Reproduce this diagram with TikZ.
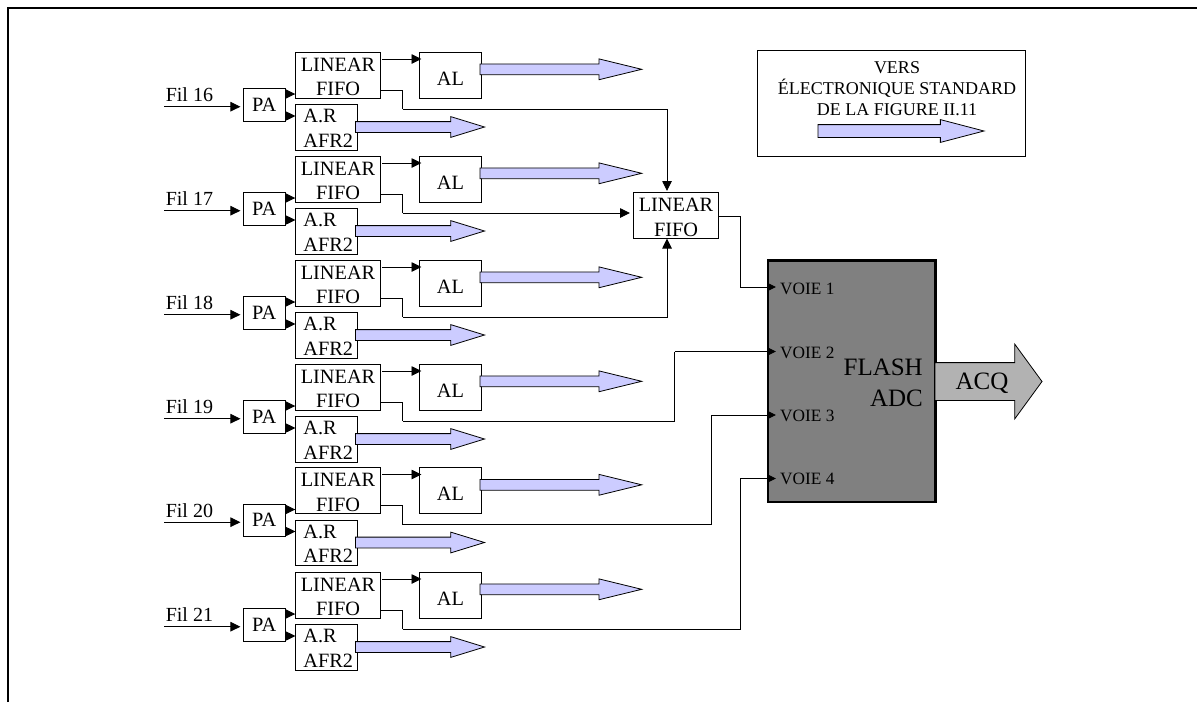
\documentclass[tikz,border=0pt]{standalone}
\usepackage{fontspec}
\setmainfont{Liberation Serif}
\usetikzlibrary{arrows.meta,shapes.arrows}
\definecolor{bluefill}{RGB}{204,204,255}
\definecolor{acqfill}{RGB}{178,178,178}
\newcommand{\fifostrut}{\rule{0pt}{17.5pt}}
\newcommand{\arstrut}{\rule{0pt}{15.5pt}}
\tikzset{
  box/.style={draw,line width=0.8pt,inner sep=0pt,outer sep=0pt,align=center,font=\fontsize{20.3}{24.5}\selectfont},
  wire/.style={line width=0.9pt},
  tip/.style={-{Triangle[length=10pt,width=9.5pt]}},
  smalltip/.style={-{Triangle[length=8pt,width=7.5pt]}},
  outarrow/.style={draw,line width=0.8pt,fill=bluefill,single arrow,single arrow head extend=5pt,inner xsep=0pt,inner ysep=5pt,outer sep=0pt,anchor=tip},
  voie/.style={anchor=west,inner sep=0pt,font=\fontsize{17.3}{20}\selectfont},
}
\begin{document}
\begin{tikzpicture}[x=1pt,y=-1pt]
  \useasboundingbox (0,0) rectangle (1197,702);
  \draw[line width=2pt] (8,702) -- (8,7.5) -- (1197,7.5);

  \node[box,minimum width=85.4pt,minimum height=46pt] (LF) at (676,215.3) {\fifostrut LINEAR\\FIFO};
  \node[draw,line width=2.2pt,fill=gray,minimum width=167.5pt,minimum height=241.5pt,outer sep=0pt] (ADC) at (851.7,381.2) {};
  \node[inner sep=0pt,anchor=east,align=right,font=\fontsize{25}{31}\selectfont] (ADCTXT) at (923,382.5) {FLASH\\ADC};
  \node[voie] (VOIE1) at (780,289) {VOIE 1};
  \node[voie] (VOIE2) at (780,353) {VOIE 2};
  \node[voie] (VOIE3) at (780,416) {VOIE 3};
  \node[voie] (VOIE4) at (780,479) {VOIE 4};
  \node[draw,line width=0.8pt,fill=acqfill,single arrow,single arrow head extend=18.5pt,single arrow tip angle=107.8,inner xsep=0pt,inner ysep=18.5pt,outer sep=0pt,minimum height=107pt,anchor=tip] (ACQ) at (1042,381.5) {};
  \node[inner sep=0pt,font=\fontsize{25}{30}\selectfont] (ACQTXT) at (982,383) {ACQ};

  \node[box,minimum width=267.7pt,minimum height=105.3pt] (LEG) at (891.2,103.3) {};
  \node[inner sep=0pt,align=center,font=\fontsize{18}{21}\selectfont] (LEGTXT) at (897,89) {VERS\\ÉLECTRONIQUE STANDARD\\DE LA FIGURE II.11};
  \node[outarrow,single arrow tip angle=29.3,inner ysep=6pt,minimum height=166pt] (LEGARW) at (984,131) {};

  \foreach \n/\dy in {16/0,17/104,18/208,19/312,20/415.5,21/520}{
    \node[box,minimum width=85.4pt,minimum height=46pt] (FIFO\n) at (338,75+\dy) {\fifostrut LINEAR\\FIFO};
    \node[box,minimum width=41.5pt,minimum height=32.6pt] (PA\n) at (264.2,104.7+\dy) {PA};
    \node[box,minimum width=61.5pt,minimum height=45.5pt,align=left,inner xsep=3pt,text width=55.5pt] (AR\n) at (326.2,127.4+\dy) {\arstrut\hspace*{5pt}A.R\\\hspace*{5pt}AFR2};
    \node[box,minimum width=62pt,minimum height=46pt,text height=20.5pt,text depth=0pt] (AL\n) at (450.5,75+\dy) {AL};
    \node[outarrow,single arrow tip angle=27.4,minimum height=161.7pt] (ALOUT\n) at (641.7,69.3+\dy) {};
    \node[outarrow,single arrow tip angle=34.2,minimum height=129pt] (AROUT\n) at (484.5,127+\dy) {};
    \coordinate (IN\n) at (164,106.7+\dy);
    \coordinate (UP\n) at (382,59+\dy);
    \coordinate (OUT\n) at (381,90+\dy);
    \coordinate (BEND\n) at (402.5,109+\dy);
    \draw[wire,tip,shorten >=3pt] (IN\n) -- node[pos=.32,above=1pt,font=\fontsize{20}{24}\selectfont]{Fil \n} (IN\n -| PA\n.west);
    \draw[wire,tip] ([yshift=10.7pt]PA\n.east) -- ([yshift=10.7pt]PA\n.east -| FIFO\n.west);
    \draw[wire,tip] ([yshift=-11.3pt]PA\n.east) -- ([yshift=-11.3pt]PA\n.east -| AR\n.west);
    \draw[wire,tip,shorten >=-2pt] (UP\n) -- (UP\n -| AL\n.west);
    \draw[wire] (OUT\n) -- (OUT\n -| BEND\n) -- (BEND\n);
  }

  \coordinate (LFTOP) at (667,191);
  \coordinate (LFLEFT) at (630,213);
  \coordinate (LFBOT) at (667,238.5);
  \draw[wire,tip] (BEND16) -| (LFTOP);
  \draw[wire,tip] (BEND17) -- (LFLEFT);
  \draw[wire,tip] (BEND18) -| (LFBOT);

  \coordinate (TIP1) at (776,287);
  \coordinate (TIP2) at (776,351.5);
  \coordinate (TIP3) at (776,415);
  \coordinate (TIP4) at (776,478.5);
  \coordinate (LFOUT) at (718.7,216.7);
  \coordinate (RISE1) at (740,287);
  \coordinate (RISE2) at (674.5,351.5);
  \coordinate (RISE3) at (711.3,415);
  \coordinate (RISE4) at (740,478.5);
  \draw[wire] (LFOUT) -| (RISE1);
  \draw[wire,smalltip] (RISE1) -- (TIP1);
  \draw[wire] (BEND19) -| (RISE2);
  \draw[wire,smalltip] (RISE2) -- (TIP2);
  \draw[wire] (BEND20) -| (RISE3);
  \draw[wire,smalltip] (RISE3) -- (TIP3);
  \draw[wire] (BEND21) -| (RISE4);
  \draw[wire,smalltip] (RISE4) -- (TIP4);
\end{tikzpicture}
\end{document}
